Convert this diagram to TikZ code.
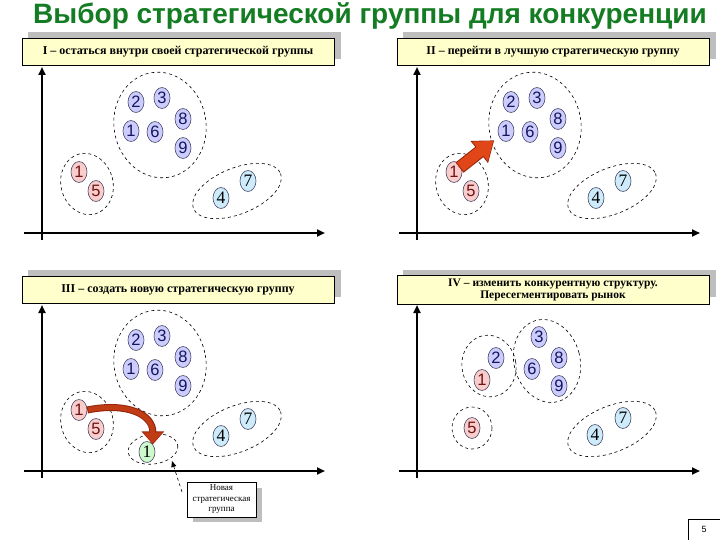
\documentclass[tikz,border=0pt]{standalone}
\usepackage{fontspec}
\setmainfont{Liberation Serif}
\setsansfont{Liberation Sans}
\usetikzlibrary{shapes.geometric,arrows.meta,calc}
\definecolor{titlegreen}{RGB}{20,125,35}
\definecolor{hdrfill}{RGB}{255,255,204}
\definecolor{shadowgray}{RGB}{190,190,190}
\definecolor{bluefill}{RGB}{204,204,255}
\definecolor{bluetext}{RGB}{20,20,90}
\definecolor{redfill}{RGB}{250,205,205}
\definecolor{redtext}{RGB}{110,20,20}
\definecolor{cyanfill}{RGB}{205,235,250}
\definecolor{greenfill}{RGB}{205,250,205}
\definecolor{numedge}{RGB}{70,70,100}
\definecolor{arrowfill}{RGB}{225,70,25}
\definecolor{arrowedge}{RGB}{150,35,10}
\newcommand\stdpanel[1]{%
  \node[bl] (#1b2) at (136,102) {2};
  \node[bl] (#1b3) at (162,98) {3};
  \node[bl] (#1b1) at (131,131) {1};
  \node[bl] (#1b6) at (155,132) {6};
  \node[bl] (#1b8) at (183,119) {8};
  \node[bl] (#1b9) at (183,148) {9};
  \node[rd] (#1r1) at (79,172) {1};
  \node[rd] (#1r5) at (96,191) {5};
  \node[cy] (#1c4) at (221,198) {4};
  \node[cy] (#1c7) at (248,181) {7};
  \draw[grp, rotate around={10:(160,125)}] (160,125) ellipse [x radius=46, y radius=53];
  \draw[grp, rotate around={15:(87,184)}] (87,184) ellipse [x radius=26, y radius=31];
  \draw[grp, rotate around={22:(237,191)}] (237,191) ellipse [x radius=47, y radius=23];
}
\newcommand\panelframe[3][]{%
  \fill[shadowgray] (28,32) rectangle (341,59);
  \node[hdr,#1] (#2) at (178,51.5) {#3};
  \draw[axis] (42,240) -- (42,67);
  \draw[axisx] (24,233) -- (325,233);
}
\begin{document}
\begin{tikzpicture}[x=1pt,y=-1pt,
  num/.style={ellipse, draw=numedge, line width=0.6pt, minimum width=16pt, minimum height=21pt, inner sep=0pt, font=\sffamily\fontsize{16.5}{16.5}\selectfont},
  bl/.style={num, fill=bluefill, text=bluetext},
  rd/.style={num, fill=redfill, text=redtext},
  cy/.style={num, fill=cyanfill, text=black, font=\rmfamily\fontsize{17.5}{17.5}\selectfont},
  gn/.style={num, fill=greenfill, text=black, font=\rmfamily\fontsize{17.5}{17.5}\selectfont},
  grp/.style={draw=black, dashed, line width=0.6pt},
  hdr/.style={draw=black, fill=hdrfill, line width=0.6pt, minimum width=312pt, minimum height=27pt, inner sep=0pt, align=center, font=\bfseries\fontsize{12}{12.5}\selectfont},
  hdrtwo/.style={font=\bfseries\fontsize{11.5}{12}\selectfont},
  axis/.style={line width=2pt, -{Triangle[length=8pt,width=7pt]}},
  axisx/.style={line width=2.6pt, -{Triangle[length=8pt,width=7pt]}},
  bigarrowedge/.style={line width=13pt, draw=arrowedge, -{Triangle[length=19pt,width=27pt]}},
  bigarrow/.style={line width=11pt, draw=arrowfill, -{Triangle[length=17pt,width=24pt]}},
  curveedge/.style={line width=7pt, draw=arrowedge, -{Triangle[length=13pt,width=22pt]}},
  curvearrow/.style={line width=5pt, draw=arrowfill!85!black, -{Triangle[length=11pt,width=19pt]}},
  callout/.style={draw=black, fill=white, line width=0.6pt, minimum width=69pt, minimum height=35pt, inner sep=0pt, align=center, font=\fontsize{9}{10.5}\selectfont},
  pagebox/.style={draw=black, line width=0.6pt, minimum width=32pt, minimum height=21pt, inner sep=0pt, font=\sffamily\fontsize{9}{9}\selectfont}
]
\useasboundingbox (0,0) rectangle (720,540);
\fill[white] (0,0) rectangle (720,540);

\node[font=\sffamily\bfseries\fontsize{28}{28}\selectfont, text=titlegreen] (title) at (370,16) {Выбор стратегической группы для конкуренции};

% Panel I
\begin{scope}
  \panelframe{h1}{I – остаться внутри своей стратегической группы}
  \stdpanel{p1}
\end{scope}

% Panel II
\begin{scope}[shift={(375,0)}]
  \panelframe{h2}{II – перейти в лучшую стратегическую группу}
  \stdpanel{p2}
  \draw[bigarrowedge, shorten <=-2pt, shorten >=6pt] (p2r1) -- (p2b1);
  \draw[bigarrow, shorten <=-1pt, shorten >=7pt] (p2r1) -- (p2b1);
\end{scope}

% Panel III
\begin{scope}[shift={(0,238)}]
  \panelframe{h3}{III – создать новую стратегическую группу}
  \stdpanel{p3}
  \node[gn] (p3g1) at (147,214) {1};
  \draw[grp, rotate around={8:(153,211)}] (153,211) ellipse [x radius=25, y radius=15];
  \draw[curveedge] (p3r1.east) .. controls +(40,-8) and +(0,-30) .. (p3g1.north east);
  \draw[curvearrow, shorten <=1pt, shorten >=1pt] (p3r1.east) .. controls +(40,-8) and +(0,-30) .. (p3g1.north east);
  \fill[shadowgray] (193,250) rectangle (262,284);
  \node[callout] (call) at (221.5,261.5) {Новая\\стратегическая\\группа};
  \coordinate (cstart) at (182,254);
  \coordinate (ctip) at (172,223);
  \draw[dashed, line width=0.6pt, -{Triangle[length=6pt,width=5pt]}] (cstart) -- (ctip);
\end{scope}

% Panel IV
\begin{scope}[shift={(375,238)}]
  \panelframe[hdrtwo, minimum height=29pt]{h4}{IV – изменить конкурентную структуру.\\Пересегментировать рынок}
  \node[bl] (p4b3) at (164,99) {3};
  \node[bl] (p4b2) at (121,120) {2};
  \node[bl] (p4b8) at (184,120) {8};
  \node[bl] (p4b6) at (157,131) {6};
  \node[rd] (p4r1) at (107,142) {1};
  \node[bl] (p4b9) at (184,148) {9};
  \node[rd] (p4r5) at (97,190) {5};
  \node[cy] (p4c4) at (220,197) {4};
  \node[cy] (p4c7) at (248,180) {7};
  \draw[grp, rotate around={10:(114,128)}] (114,128) ellipse [x radius=27, y radius=31];
  \draw[grp, rotate around={15:(172,123)}] (172,123) ellipse [x radius=33, y radius=42];
  \draw[grp] (97,190) ellipse [x radius=20, y radius=21];
  \draw[grp, rotate around={22:(237,191)}] (237,191) ellipse [x radius=47, y radius=23];
\end{scope}

\node[pagebox] (page) at (704,529.5) {5};
\end{tikzpicture}
\end{document}
